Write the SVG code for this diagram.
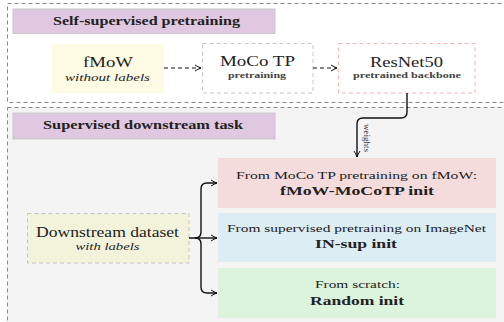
<svg xmlns="http://www.w3.org/2000/svg" width="504" height="322" viewBox="0 0 504 322" font-family="Liberation Serif, serif">
<defs>
<marker id="arr" viewBox="0 0 8 8" refX="7" refY="4" markerWidth="8" markerHeight="8" markerUnits="userSpaceOnUse" orient="auto">
<path d="M1,1 Q4,3 7,4 Q4,5 1,7" fill="none" stroke="#111" stroke-width="1"/>
</marker>
<style>
text{fill:#222;text-anchor:middle}
.panel{stroke:#888;stroke-width:1;stroke-dasharray:4 3}
.hdr{fill:#e0c8e0;stroke:#c8c8c8;stroke-width:1}
.hdrt{font-weight:bold;font-size:12px}
.big{font-size:15px}
.it{font-style:italic;font-size:10.5px}
.sm{font-size:8px;font-weight:bold;fill:#444}
.l1{font-size:11px}
.l2{font-size:12.5px;font-weight:bold}
.dash{fill:none;stroke:#111;stroke-width:1.1;stroke-dasharray:4 3}
.solid{fill:none;stroke:#111;stroke-width:1.4}
</style>
</defs>
<g id="panel-top">
<rect class="panel" x="7.5" y="3.5" width="510" height="99" fill="#fff"/>
<rect class="hdr" x="13" y="9" width="262" height="24.5"/>
<text class="hdrt" x="146.5" y="25" textLength="187" lengthAdjust="spacingAndGlyphs">Self-supervised pretraining</text>
</g>
<g id="panel-bottom">
<rect class="panel" x="7.5" y="107.5" width="510" height="230" fill="#f4f4f4"/>
<rect class="hdr" x="13" y="113" width="262" height="26"/>
<text class="hdrt" x="143" y="128.5" textLength="200" lengthAdjust="spacingAndGlyphs">Supervised downstream task</text>
</g>
<g id="fmow">
<rect x="52" y="44" width="112" height="49" fill="#fdfbe4"/>
<text class="big" x="108" y="67" textLength="50" lengthAdjust="spacingAndGlyphs">fMoW</text>
<text class="it" x="107.5" y="81" textLength="85" lengthAdjust="spacingAndGlyphs">without labels</text>
</g>
<g id="moco">
<rect x="202.5" y="43.5" width="110.5" height="49.5" fill="#fff" stroke="#c8c8c8" stroke-dasharray="4 3"/>
<text class="big" x="257.5" y="66" textLength="75" lengthAdjust="spacingAndGlyphs">MoCo TP</text>
<text class="sm" x="257" y="78" textLength="58" lengthAdjust="spacingAndGlyphs">pretraining</text>
</g>
<g id="resnet">
<rect x="338.5" y="43.5" width="136.5" height="49.5" fill="#fff" stroke="#f4b8b8" stroke-dasharray="4 3"/>
<text class="big" x="406.5" y="67" textLength="73" lengthAdjust="spacingAndGlyphs">ResNet50</text>
<text class="sm" x="407" y="78" textLength="108" lengthAdjust="spacingAndGlyphs">pretrained backbone</text>
</g>
<g id="downstream">
<rect x="27.5" y="213.5" width="161.5" height="49.5" fill="#f3f3dc" stroke="#c4c4c4" stroke-dasharray="4 3"/>
<text class="big" x="107.5" y="237" textLength="143" lengthAdjust="spacingAndGlyphs">Downstream dataset</text>
<text class="it" x="107.5" y="250" textLength="64" lengthAdjust="spacingAndGlyphs">with labels</text>
</g>
<g id="init-moco">
<rect x="218" y="158" width="278" height="50" fill="#f4dcdc"/>
<text class="l1" x="356.5" y="179" textLength="241" lengthAdjust="spacingAndGlyphs">From MoCo TP pretraining on fMoW:</text>
<text class="l2" x="357" y="195" textLength="154" lengthAdjust="spacingAndGlyphs">fMoW-MoCoTP init</text>
</g>
<g id="init-in">
<rect x="218" y="213" width="278" height="49" fill="#dcedf4"/>
<text class="l1" x="356.5" y="232" textLength="259" lengthAdjust="spacingAndGlyphs">From supervised pretraining on ImageNet</text>
<text class="l2" x="356" y="248" textLength="82" lengthAdjust="spacingAndGlyphs">IN-sup init</text>
</g>
<g id="init-random">
<rect x="218" y="268" width="278" height="50" fill="#dcf4dc"/>
<text class="l1" x="357.5" y="288" textLength="85" lengthAdjust="spacingAndGlyphs">From scratch:</text>
<text class="l2" x="357" y="305" textLength="94" lengthAdjust="spacingAndGlyphs">Random init</text>
</g>
<g id="connectors">
<path class="dash" d="M164,68 H201" marker-end="url(#arr)"/>
<path class="dash" d="M313,68 H337" marker-end="url(#arr)"/>
<path class="solid" d="M407,93 V112 Q407,118 401,118 H363 Q357,118 357,124 V157" marker-end="url(#arr)"/>
<text x="0" y="0" font-size="9" transform="translate(364,138) rotate(90)" style="fill:#333">weights</text>
<path class="solid" d="M189,238 H195 Q201,238 201,232 V189 Q201,183 207,183 H217" marker-end="url(#arr)"/>
<path class="solid" d="M195,238 H217" marker-end="url(#arr)"/>
<path class="solid" d="M195,238 Q201,238 201,244 V287 Q201,293 207,293 H217" marker-end="url(#arr)"/>
</g>
</svg>
